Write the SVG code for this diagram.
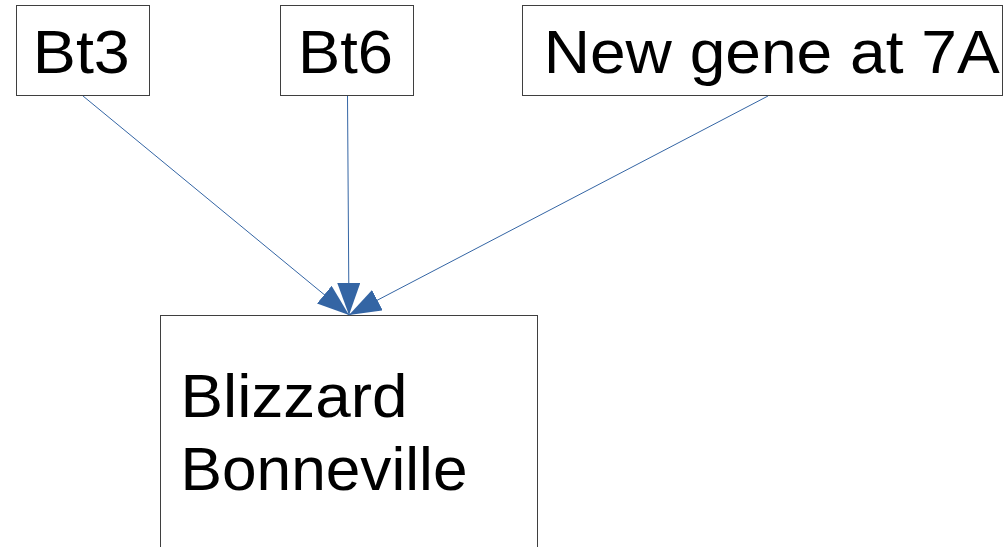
<svg xmlns="http://www.w3.org/2000/svg" width="1003" height="547" viewBox="0 0 1003 547">
  <style>
    .box { fill: #ffffff; stroke: #3f3f3f; stroke-width: 1; }
    .label { font-family: "Liberation Sans", Arial, sans-serif; font-size: 61px; fill: #000000; }
    .edge { stroke: #3465a4; stroke-width: 1; fill: none; marker-end: url(#arrow); }
  </style>
  <defs>
    <marker id="arrow" markerUnits="userSpaceOnUse" markerWidth="33" markerHeight="24" refX="32" refY="11.5" orient="auto">
      <path d="M0,0 L32,11.5 L0,23 Z" fill="#3465a4"/>
    </marker>
  </defs>
  <rect width="1003" height="547" fill="#ffffff"/>

  <g id="node-bt3">
    <rect class="box" x="16.5" y="5.5" width="133" height="90"/>
    <text class="label" x="32.8" y="72.7" textLength="97" lengthAdjust="spacingAndGlyphs">Bt3</text>
  </g>

  <g id="node-bt6">
    <rect class="box" x="280.5" y="5.5" width="133" height="90"/>
    <text class="label" x="298" y="72.7" textLength="95" lengthAdjust="spacingAndGlyphs">Bt6</text>
  </g>

  <g id="node-new-gene">
    <rect class="box" x="522.5" y="5.5" width="480" height="90"/>
    <text class="label" x="543.7" y="72.7" textLength="456" lengthAdjust="spacingAndGlyphs">New gene at 7A</text>
  </g>

  <g id="node-blizzard">
    <rect class="box" x="160.5" y="315.5" width="377" height="260"/>
    <text class="label" x="180.5" y="417.3" textLength="227" lengthAdjust="spacingAndGlyphs">Blizzard</text>
    <text class="label" x="180.5" y="490" textLength="287" lengthAdjust="spacingAndGlyphs">Bonneville</text>
  </g>

  <g id="connectors">
    <line class="edge" x1="83" y1="96" x2="349" y2="315"/>
    <line class="edge" x1="347.5" y1="96" x2="349" y2="315"/>
    <line class="edge" x1="768" y1="96" x2="349" y2="315"/>
  </g>
</svg>
